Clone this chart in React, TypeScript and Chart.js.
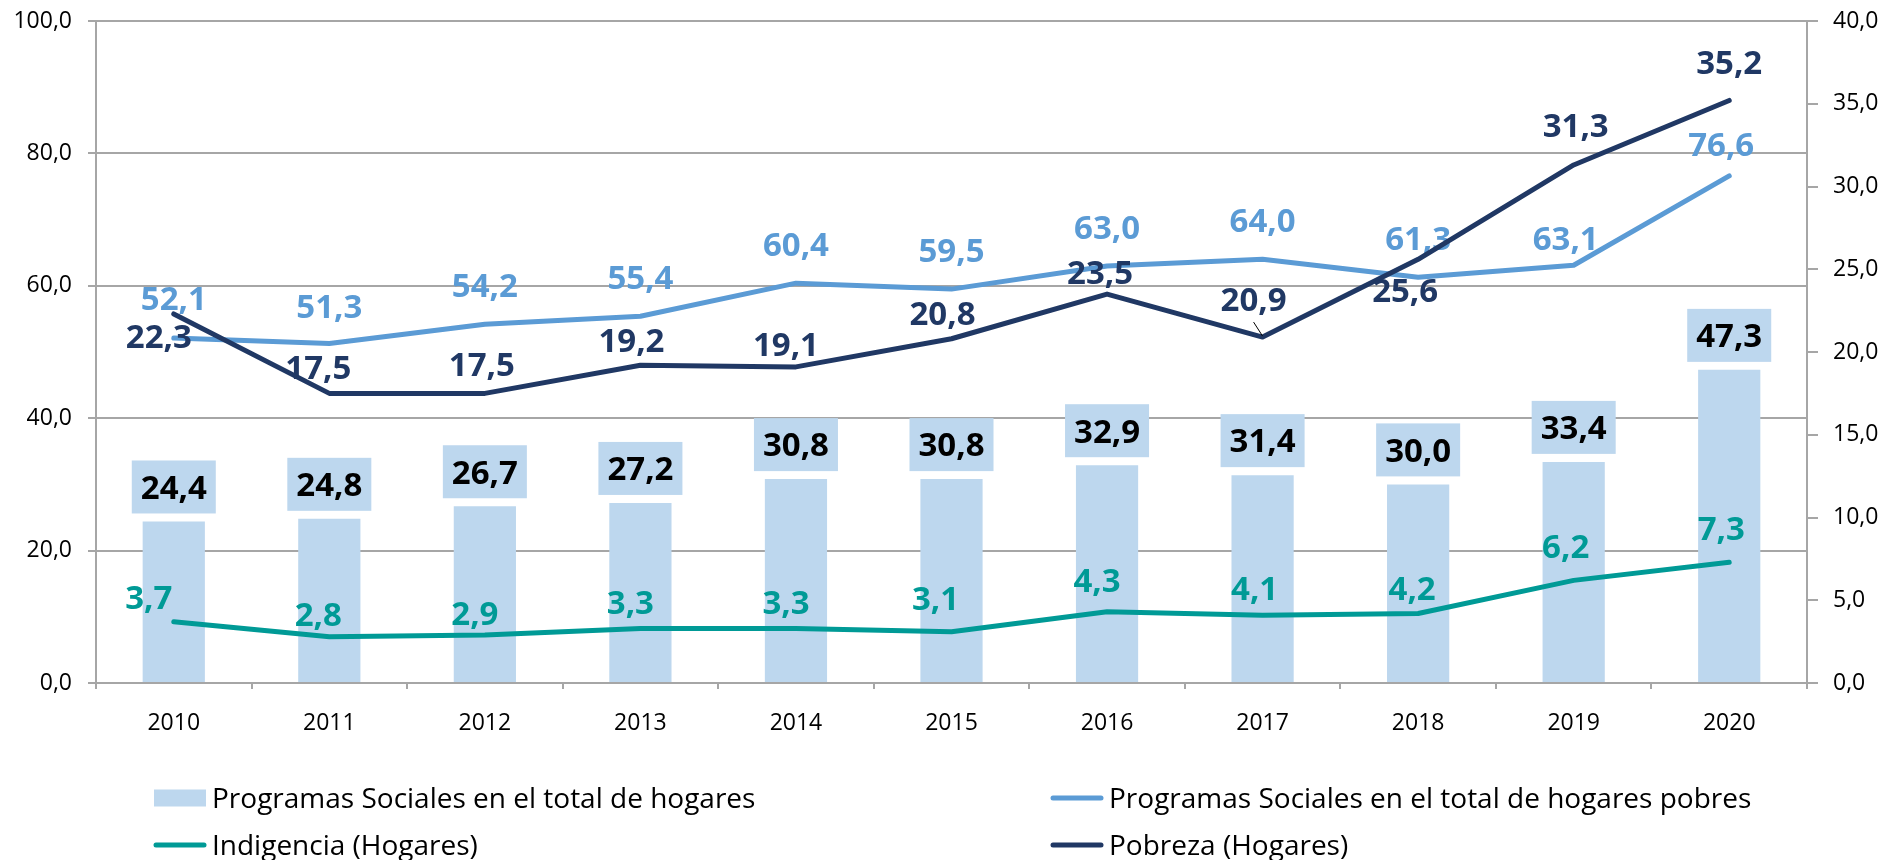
import React, { useEffect, useRef } from 'react';
import { Chart, registerables } from 'chart.js';

Chart.register(...registerables);

const years = ['2010', '2011', '2012', '2013', '2014', '2015', '2016', '2017', '2018', '2019', '2020'];
const programasTotal = [24.4, 24.8, 26.7, 27.2, 30.8, 30.8, 32.9, 31.4, 30.0, 33.4, 47.3];
const programasPobres = [52.1, 51.3, 54.2, 55.4, 60.4, 59.5, 63.0, 64.0, 61.3, 63.1, 76.6];
const indigencia = [3.7, 2.8, 2.9, 3.3, 3.3, 3.1, 4.3, 4.1, 4.2, 6.2, 7.3];
const pobreza = [22.3, 17.5, 17.5, 19.2, 19.1, 20.8, 23.5, 20.9, 25.6, 31.3, 35.2];
const leftTicks = [0, 20, 40, 60, 80, 100];
const rightTicks = [0, 5, 10, 15, 20, 25, 30, 35, 40];

const fmt = (v: number) => v.toFixed(1).replace('.', ',');

const C_BAR = '#BDD7EE';
const C_POBRES = '#5B9BD5';
const C_INDIG = '#009A96';
const C_POBREZA = '#203864';
const C_GRID = '#A6A6A6';
const FONT = "'Open Sans', 'Noto Sans', sans-serif";

const valueLabels = {
  id: 'valueLabels',
  afterDatasetDraw(chart: any, args: any, opts: any) {
    const s = opts.series?.[args.index];
    if (!s) return;
    const ctx = chart.ctx as CanvasRenderingContext2D;
    const ds = chart.data.datasets[args.index];
    ctx.save();
    ctx.font = s.font;
    ctx.textAlign = 'center';
    ctx.textBaseline = 'alphabetic';
    args.meta.data.forEach((el: any, i: number) => {
      const v = ds.data[i] as number;
      const text = fmt(v);
      const off = s.offsets ? s.offsets[i] : s.offset;
      const cx = el.x + off[0];
      const cy = el.y + off[1];
      if (s.box) {
        const w = ctx.measureText(text).width + s.boxPadX * 2;
        ctx.fillStyle = s.box;
        ctx.fillRect(cx - w / 2, cy - s.boxH / 2, w, s.boxH);
      }
      if (s.leaders && s.leaders[i]) {
        ctx.strokeStyle = '#000';
        ctx.lineWidth = 1;
        ctx.beginPath();
        ctx.moveTo(cx, cy + 23);
        ctx.lineTo(el.x, el.y - 1);
        ctx.stroke();
      }
      ctx.fillStyle = s.color;
      ctx.fillText(text, cx, cy + s.capHalf);
    });
    ctx.restore();
  },
};

const customLegend = {
  id: 'customLegend',
  afterDraw(chart: any, _args: any, opts: any) {
    const ctx = chart.ctx as CanvasRenderingContext2D;
    ctx.save();
    ctx.font = opts.font;
    ctx.textAlign = 'left';
    ctx.textBaseline = 'alphabetic';
    opts.items.forEach((it: any) => {
      const ds = chart.data.datasets[it.dataset];
      const x = opts.cols[it.col];
      const y = opts.rows[it.row];
      if (it.kind === 'box') {
        ctx.fillStyle = ds.backgroundColor;
        ctx.fillRect(x, y - opts.boxH / 2, opts.markerW, opts.boxH);
      } else {
        ctx.strokeStyle = ds.borderColor;
        ctx.lineWidth = 5;
        ctx.lineCap = 'round';
        ctx.beginPath();
        ctx.moveTo(x + 2, y);
        ctx.lineTo(x + opts.markerW - 2, y);
        ctx.stroke();
      }
      ctx.fillStyle = '#000';
      ctx.fillText(ds.label, x + opts.markerW + opts.gap, y + opts.capHalf);
    });
    ctx.restore();
  },
};

export default function App() {
  const ref = useRef<HTMLCanvasElement>(null);

  useEffect(() => {
    const canvas = ref.current;
    if (!canvas) return;
    const labelFont = `bold 33px ${FONT}`;
    const tickFont = { family: FONT, size: 23 };
    const chart = new Chart(canvas, {
      type: 'bar',
      data: {
        labels: years,
        datasets: [
          {
            type: 'bar',
            label: 'Programas Sociales en el total de hogares',
            data: programasTotal,
            backgroundColor: C_BAR,
            yAxisID: 'y',
            order: 4,
            barPercentage: 0.4,
            categoryPercentage: 1,
          },
          {
            type: 'line',
            label: 'Programas Sociales en el total de hogares pobres',
            data: programasPobres,
            borderColor: C_POBRES,
            backgroundColor: C_POBRES,
            borderWidth: 5,
            pointRadius: 0,
            tension: 0,
            borderCapStyle: 'round',
            borderJoinStyle: 'round',
            yAxisID: 'y',
            order: 2,
          },
          {
            type: 'line',
            label: 'Indigencia (Hogares)',
            data: indigencia,
            borderColor: C_INDIG,
            backgroundColor: C_INDIG,
            borderWidth: 5,
            pointRadius: 0,
            tension: 0,
            borderCapStyle: 'round',
            borderJoinStyle: 'round',
            yAxisID: 'y1',
            order: 3,
          },
          {
            type: 'line',
            label: 'Pobreza (Hogares)',
            data: pobreza,
            borderColor: C_POBREZA,
            backgroundColor: C_POBREZA,
            borderWidth: 5,
            pointRadius: 0,
            tension: 0,
            borderCapStyle: 'round',
            borderJoinStyle: 'round',
            yAxisID: 'y1',
            order: 1,
          },
        ] as any,
      },
      options: {
        responsive: false,
        animation: false,
        layout: { padding: { top: 21, bottom: 107, left: 0, right: 0 } },
        scales: {
          x: {
            offset: true,
            grid: {
              offset: true,
              drawOnChartArea: false,
              drawTicks: true,
              tickLength: 6,
              color: C_GRID,
              lineWidth: 2,
            },
            border: { display: true, color: C_GRID, width: 2 },
            ticks: { color: '#000', font: tickFont, padding: 21, maxRotation: 0 },
            afterFit: (s: any) => { s.height = 70; },
          },
          y: {
            position: 'left',
            min: 0,
            max: 100,
            afterBuildTicks: (s: any) => { s.ticks = leftTicks.map((v) => ({ value: v })); },
            grid: { color: C_GRID, lineWidth: 2, tickLength: 8, drawTicks: true },
            border: { display: true, color: C_GRID, width: 2 },
            ticks: {
              color: '#000',
              font: tickFont,
              padding: 16,
              callback: (v: any) => fmt(Number(v)),
            },
            afterFit: (s: any) => { s.width = 96; s.paddingTop = 10; s.paddingBottom = 10; },
          },
          y1: {
            position: 'right',
            min: 0,
            max: 40,
            afterBuildTicks: (s: any) => { s.ticks = rightTicks.map((v) => ({ value: v })); },
            grid: { drawOnChartArea: false, color: C_GRID, lineWidth: 2, tickLength: 11, drawTicks: true },
            border: { display: true, color: C_GRID, width: 2 },
            ticks: {
              color: '#000',
              font: tickFont,
              padding: 15,
              callback: (v: any) => fmt(Number(v)),
            },
            afterFit: (s: any) => { s.width = 80; s.paddingTop = 10; s.paddingBottom = 10; },
          },
        },
        plugins: {
          legend: { display: false },
          tooltip: { enabled: false },
          valueLabels: {
            series: {
              0: {
                font: labelFont, color: '#000', capHalf: 11.8,
                offset: [0, -34.5], box: C_BAR, boxH: 53, boxPadX: 9,
              },
              1: {
                font: labelFont, color: C_POBRES, capHalf: 11.8,
                offsets: [[0, -40], [0, -37], [0, -39], [0, -39], [0, -39], [0, -39], [0, -39], [0, -39], [0, -39], [-8, -27], [-8, -32]],
              },
              2: {
                font: labelFont, color: C_INDIG, capHalf: 11.8,
                offsets: [[-25, -25], [-11, -22], [-10, -22], [-10, -26], [-10, -26], [-16, -33], [-10, -32], [-8, -27], [-6, -25], [-8, -34], [-8, -34]],
              },
              3: {
                font: labelFont, color: C_POBREZA, capHalf: 11.8,
                offsets: [[-15, 22], [-11, -26], [-3, -29], [-9, -25], [-10, -23], [-9, -26], [-7, -22], [-9, -38], [-13, 31], [2, -40], [0, -38]],
                leaders: [false, false, false, false, false, false, false, true, false, false, false],
              },
            },
          },
          customLegend: {
            font: `28px ${FONT}`,
            capHalf: 10,
            cols: [154, 1051],
            rows: [798, 845],
            markerW: 52,
            boxH: 17,
            gap: 6,
            items: [
              { dataset: 0, col: 0, row: 0, kind: 'box' },
              { dataset: 1, col: 1, row: 0, kind: 'line' },
              { dataset: 2, col: 0, row: 1, kind: 'line' },
              { dataset: 3, col: 1, row: 1, kind: 'line' },
            ],
          },
        } as any,
      },
      plugins: [valueLabels, customLegend],
    });
    return () => chart.destroy();
  }, []);

  return (
    <div style={{ position: 'fixed', left: 0, top: 0, width: 1887, height: 860, background: '#fff' }}>
      <canvas ref={ref} width={1887} height={860} style={{ display: 'block' }} />
    </div>
  );
}
